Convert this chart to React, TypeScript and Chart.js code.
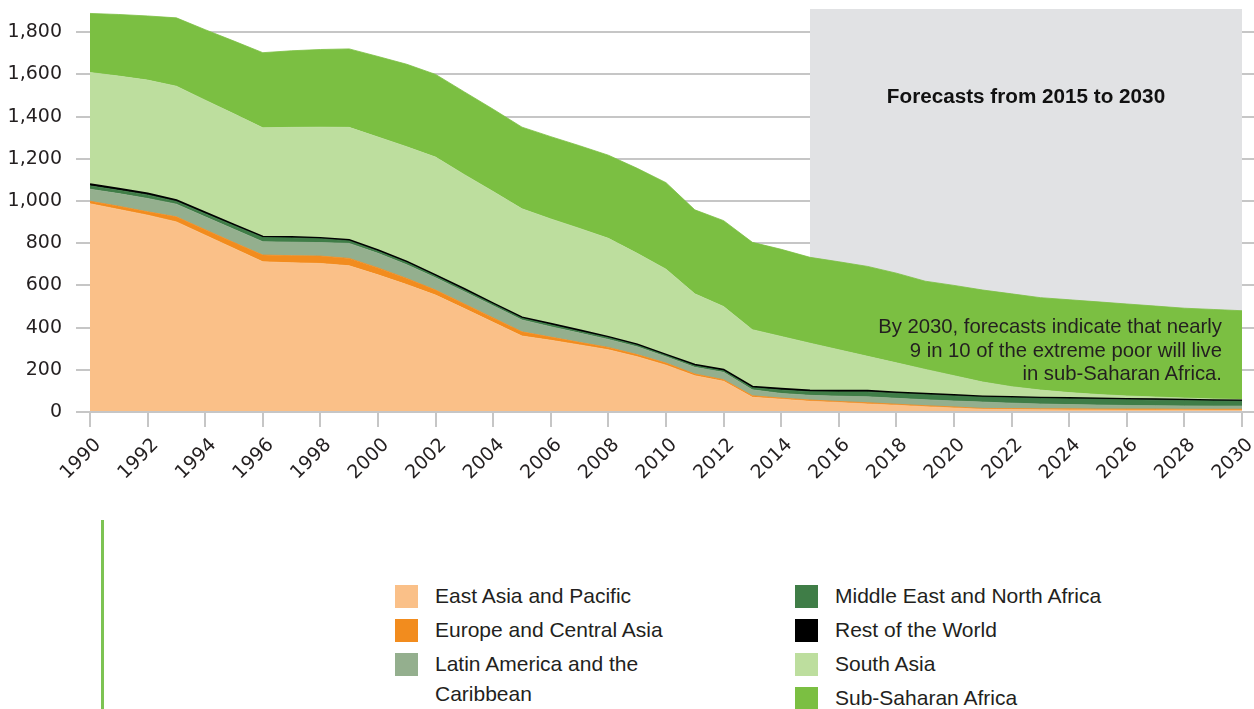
import React, { useEffect, useRef } from "react";
import { Chart, registerables } from "chart.js";

Chart.register(...registerables);

// ---------- data ----------
const years = [
  1990, 1991, 1992, 1993, 1994, 1995, 1996, 1997, 1998, 1999,
  2000, 2001, 2002, 2003, 2004, 2005, 2006, 2007, 2008, 2009,
  2010, 2011, 2012, 2013, 2014, 2015, 2016, 2017, 2018, 2019,
  2020, 2021, 2022, 2023, 2024, 2025, 2026, 2027, 2028, 2029, 2030,
];

const eastAsiaPacific = [
  987, 960, 933, 901, 838, 775, 712, 707, 704, 693,
  650, 604, 554, 490, 425, 360, 340, 318, 295, 262,
  222, 172, 146, 70, 61, 51, 45, 38, 32, 25,
  19, 13, 12, 11, 10, 10, 9, 9, 9, 8, 8,
];
const europeCentralAsia = [
  12, 15, 16, 24, 26, 28, 32, 34, 35, 35,
  33, 29, 24, 22, 21, 20, 15, 12, 11, 10,
  10, 8, 7, 7, 5, 6, 5, 6, 5, 5,
  5, 4, 4, 4, 5, 4, 5, 5, 4, 5, 5,
];
const latinAmericaCaribbean = [
  57, 60, 63, 60, 61, 63, 63, 64, 64, 71,
  69, 65, 58, 58, 57, 56, 49, 44, 38, 37,
  30, 32, 35, 28, 22, 22, 25, 28, 28, 28,
  28, 30, 26, 23, 20, 19, 17, 16, 16, 15, 15,
];
const middleEastNorthAfrica = [
  16, 16, 17, 13, 15, 17, 20, 20, 18, 12,
  10, 10, 8, 8, 8, 8, 9, 8, 8, 7,
  6, 7, 7, 10, 16, 17, 20, 23, 23, 24,
  24, 23, 25, 26, 27, 27, 27, 26, 25, 24, 23,
];
const restOfWorld = [
  8, 7, 7, 6, 6, 5, 4, 4, 4, 4,
  5, 4, 5, 5, 4, 4, 5, 5, 4, 4,
  4, 5, 5, 5, 6, 6, 6, 6, 5, 4,
  4, 4, 4, 4, 4, 4, 4, 4, 4, 4, 3,
];
const southAsia = [
  529, 534, 537, 540, 532, 525, 516, 520, 525, 534,
  536, 545, 559, 542, 530, 515, 497, 483, 467, 432,
  405, 336, 300, 270, 248, 224, 194, 163, 140, 116,
  92, 68, 49, 36, 26, 19, 14, 11, 8, 6, 5,
];
const subSaharanAfrica = [
  280, 292, 304, 324, 334, 345, 356, 363, 368, 372,
  382, 391, 392, 392, 390, 387, 390, 392, 394, 403,
  410, 398, 407, 414, 413, 407, 417, 426, 425, 418,
  428, 436, 440, 438, 440, 439, 436, 431, 426, 424, 421,
];

const seriesNames = [
  "East Asia and Pacific",
  "Europe and Central Asia",
  "Latin America and the Caribbean",
  "Middle East and North Africa",
  "Rest of the World",
  "South Asia",
  "Sub-Saharan Africa",
];
const seriesValues = [
  eastAsiaPacific,
  europeCentralAsia,
  latinAmericaCaribbean,
  middleEastNorthAfrica,
  restOfWorld,
  southAsia,
  subSaharanAfrica,
];
const seriesColors = [
  "#FAC088",
  "#F28C1E",
  "#94AF8E",
  "#3F7D47",
  "#000000",
  "#BDDE9E",
  "#7BBF42",
];

const xTickYears = [
  1990, 1992, 1994, 1996, 1998, 2000, 2002, 2004, 2006, 2008, 2010,
  2012, 2014, 2016, 2018, 2020, 2022, 2024, 2026, 2028, 2030,
];
const yTickValues = [0, 200, 400, 600, 800, 1000, 1200, 1400, 1600, 1800];
const yMax = 1910;
const forecastStart = 2015;
const forecastEnd = 2030;

const forecastTitle = "Forecasts from 2015 to 2030";
const noteLines = [
  "By 2030, forecasts indicate that nearly",
  "9 in 10 of the extreme poor will live",
  "in sub-Saharan Africa.",
];

// ---------- styles ----------
const GRID = "#C6C6C6";
const TEXT = "#231F20";
const BOX = "#E1E2E4";
const TEXT_FONT = "'Liberation Sans', Arial, sans-serif";

const forecastPlugin = {
  id: "forecastBox",
  beforeDatasetsDraw(chart: any) {
    const { ctx, chartArea, scales } = chart;
    const x0 = scales.x.getPixelForValue(forecastStart);
    const x1 = scales.x.getPixelForValue(forecastEnd);
    ctx.save();
    ctx.fillStyle = BOX;
    ctx.fillRect(x0, chartArea.top, x1 - x0, chartArea.bottom - chartArea.top);
    ctx.strokeStyle = GRID;
    ctx.lineWidth = 2;
    for (const v of yTickValues) {
      const y = Math.round(scales.y.getPixelForValue(v));
      ctx.beginPath();
      ctx.moveTo(chartArea.right, y);
      ctx.lineTo(chart.width, y);
      ctx.stroke();
    }
    ctx.restore();
  },
  afterDatasetsDraw(chart: any) {
    const { ctx, chartArea, scales } = chart;
    const y = Math.round(scales.y.getPixelForValue(0));
    ctx.save();
    ctx.strokeStyle = GRID;
    ctx.lineWidth = 2;
    ctx.beginPath();
    ctx.moveTo(chartArea.left, y);
    ctx.lineTo(chart.width, y);
    ctx.stroke();
    ctx.restore();
  },
};

export default function App() {
  const canvasRef = useRef<HTMLCanvasElement | null>(null);

  useEffect(() => {
    document.body.style.margin = "0";
    const canvas = canvasRef.current;
    if (!canvas) return;
    const chart = new Chart(canvas, {
      type: "line",
      data: {
        datasets: seriesValues.map((vals, i) => ({
          label: seriesNames[i],
          data: vals.map((v, j) => ({ x: years[j], y: v })),
          backgroundColor: seriesColors[i],
          borderColor: seriesColors[i],
          borderWidth: i === 4 ? 2 : 0.8,
          fill: i === 0 ? "origin" : "-1",
          pointRadius: 0,
          tension: 0,
        })),
      },
      options: {
        responsive: false,
        animation: false,
        layout: { padding: { top: 9, right: 12, left: 0, bottom: 0 } },
        plugins: {
          legend: { display: false },
          tooltip: { enabled: false },
        },
        scales: {
          x: {
            type: "linear",
            min: years[0],
            max: years[years.length - 1],
            grid: {
              drawOnChartArea: false,
              drawTicks: true,
              tickLength: 15,
              color: GRID,
              lineWidth: 2,
            },
            border: { display: false },
            ticks: {
              autoSkip: false,
              maxRotation: 45,
              minRotation: 45,
              padding: 7,
              labelOffset: 8,
              color: TEXT,
              font: { family: "'DejaVu Sans', sans-serif", size: 19 },
              callback: (v: any) => String(v),
            },
            afterBuildTicks: (s: any) => {
              s.ticks = xTickYears.map((v) => ({ value: v }));
            },
            afterFit: (s: any) => {
              s.height = 78;
              s.paddingLeft = 0;
              s.paddingRight = 0;
            },
          },
          y: {
            stacked: true,
            min: 0,
            max: yMax,
            grid: { color: GRID, lineWidth: 2, tickLength: 14 },
            border: { display: false },
            ticks: {
              padding: 14,
              color: TEXT,
              font: { family: "'DejaVu Sans', sans-serif", size: 19 },
              callback: (v: any) => Number(v).toLocaleString("en-US"),
            },
            afterBuildTicks: (s: any) => {
              s.ticks = yTickValues.map((v) => ({ value: v }));
            },
            afterFit: (s: any) => {
              s.width = 90;
              s.paddingTop = 0;
              s.paddingBottom = 0;
            },
          },
        },
      } as any,
      plugins: [forecastPlugin],
    });
    return () => chart.destroy();
  }, []);

  const legendLeft = [
    { name: seriesNames[0], color: seriesColors[0] },
    { name: seriesNames[1], color: seriesColors[1] },
    { name: seriesNames[2], color: seriesColors[2] },
  ];
  const legendRight = [
    { name: seriesNames[3], color: seriesColors[3] },
    { name: seriesNames[4], color: seriesColors[4] },
    { name: seriesNames[5], color: seriesColors[5] },
    { name: seriesNames[6], color: seriesColors[6] },
  ];

  const renderItem = (
    item: { name: string; color: string },
    i: number,
    swatchX: number,
    textX: number,
    textW: number
  ) => (
    <div key={item.name}>
      <div
        style={{
          position: "absolute",
          left: swatchX,
          top: 585 + i * 34,
          width: 23,
          height: 23,
          background: item.color,
        }}
      />
      <div
        style={{
          position: "absolute",
          left: textX,
          top: 581 + i * 34,
          width: textW,
          fontFamily: TEXT_FONT,
          fontSize: 21,
          lineHeight: "30px",
          color: TEXT,
        }}
      >
        {item.name}
      </div>
    </div>
  );

  return (
    <div
      style={{
        position: "relative",
        width: 1254,
        height: 709,
        overflow: "hidden",
        background: "#fff",
      }}
    >
      <canvas
        ref={canvasRef}
        width={1254}
        height={490}
        style={{ position: "absolute", left: 0, top: 0 }}
      />
      <div
        style={{
          position: "absolute",
          left: 810,
          width: 432,
          top: 84,
          textAlign: "center",
          fontFamily: TEXT_FONT,
          fontWeight: "bold",
          fontSize: 20.7,
          lineHeight: "24px",
          color: "#111",
        }}
      >
        {forecastTitle}
      </div>
      <div
        style={{
          position: "absolute",
          right: 1254 - 1222,
          top: 315,
          textAlign: "right",
          fontFamily: TEXT_FONT,
          fontSize: 20.3,
          lineHeight: "23.5px",
          color: TEXT,
          whiteSpace: "nowrap",
        }}
      >
        {noteLines.map((l) => (
          <div key={l}>{l}</div>
        ))}
      </div>
      <div
        style={{
          position: "absolute",
          left: 101,
          top: 520,
          width: 3,
          height: 189,
          background: "#7DC353",
        }}
      />
      {legendLeft.map((it, i) => renderItem(it, i, 395, 435, 240))}
      {legendRight.map((it, i) => renderItem(it, i, 795, 835, 340))}
    </div>
  );
}
